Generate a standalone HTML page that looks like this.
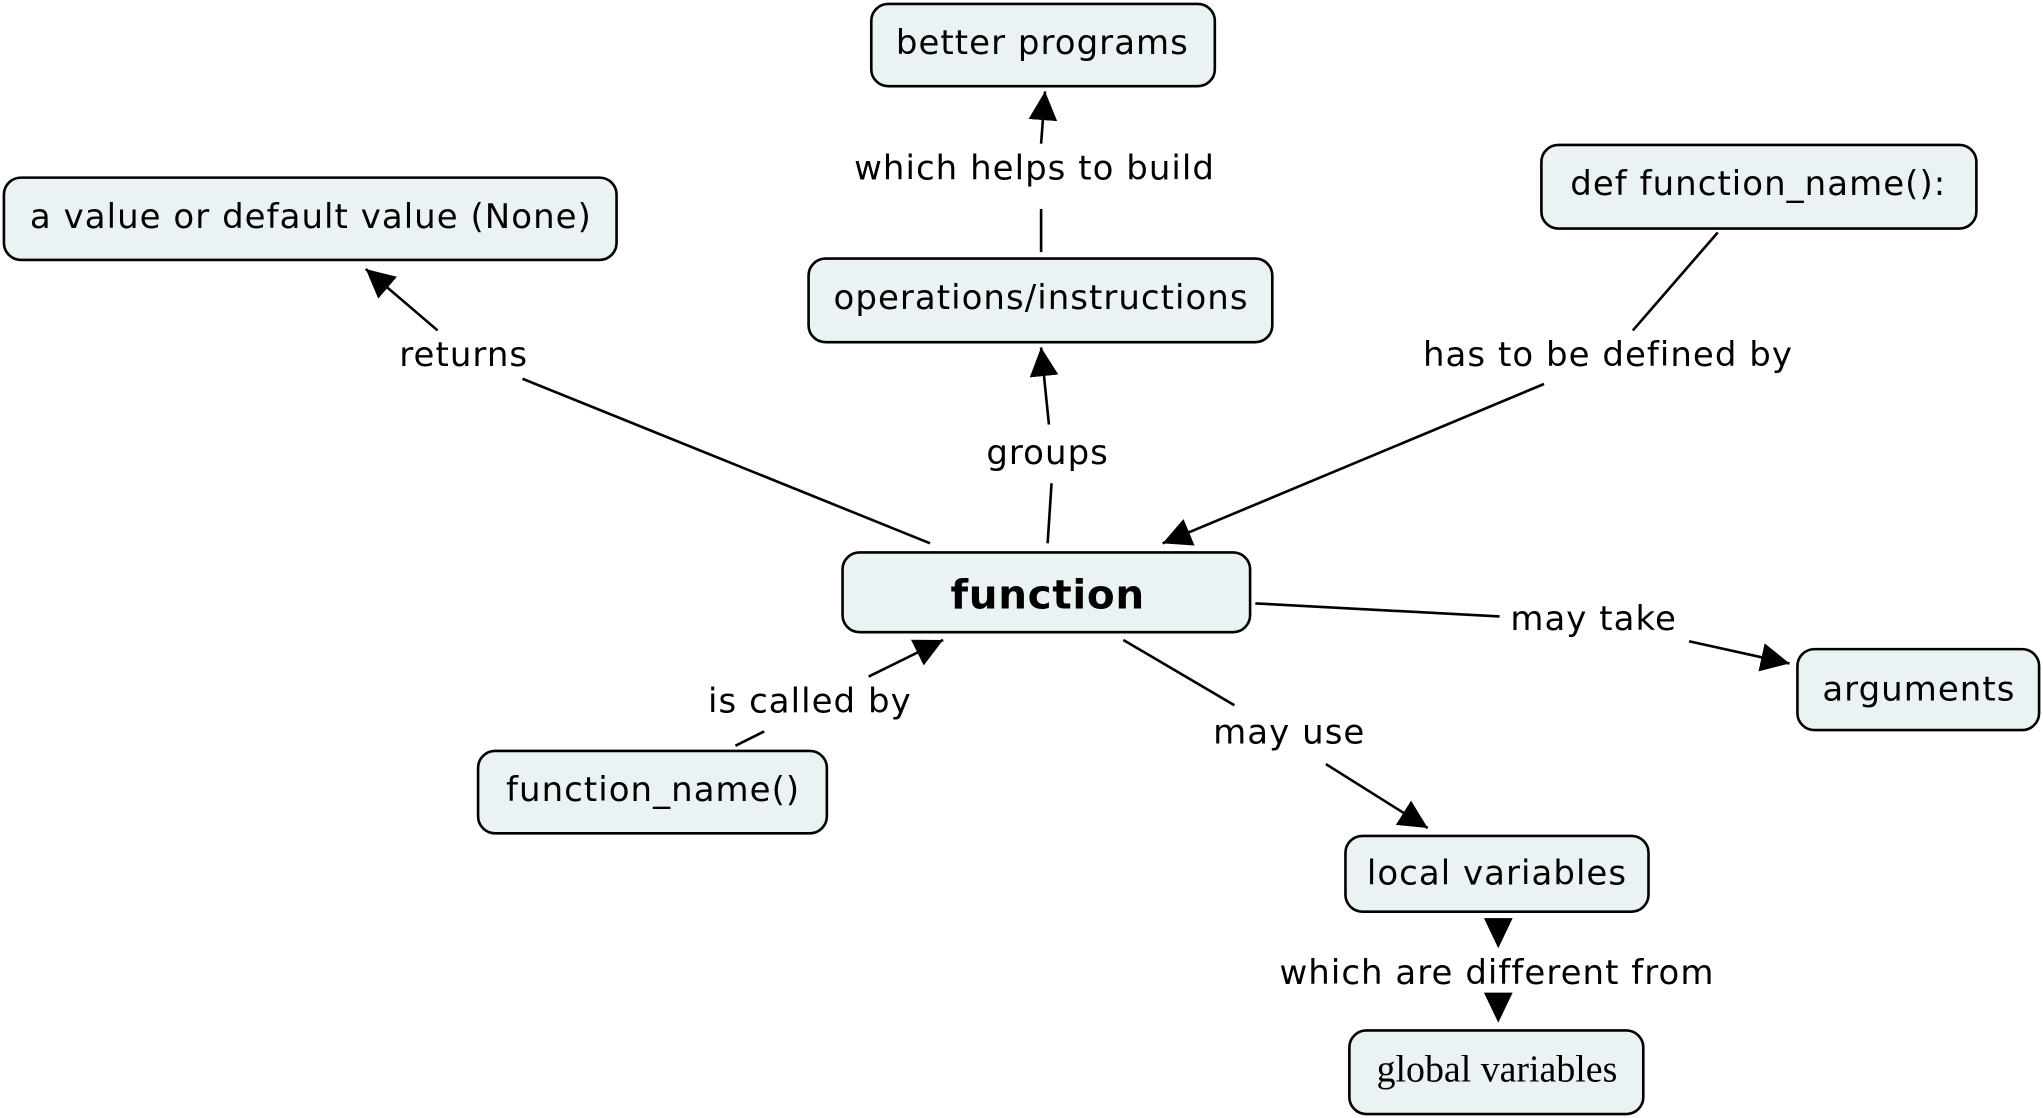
<!DOCTYPE html>
<html><head><meta charset="utf-8"><style>
html,body{margin:0;padding:0;background:#fff;width:2043px;height:1118px;overflow:hidden}
svg{display:block}
text{font-family:"DejaVu Sans","Liberation Sans",sans-serif;font-size:26px;letter-spacing:0.8px;fill:#000;text-anchor:middle;dominant-baseline:central}
rect{fill:#ebf2f4;stroke:#000;stroke-width:2}
line{stroke:#000;stroke-width:2}
</style></head><body>
<svg width="2043" height="1118" viewBox="0 0 1564 856" preserveAspectRatio="none">
<defs><marker id="a" markerUnits="userSpaceOnUse" markerWidth="24" markerHeight="24" refX="22" refY="11" orient="auto"><path d="M0,0 L22,11 L0,22 z" fill="#000"/></marker></defs>

<rect x="667" y="3" width="263" height="63" rx="13"/><text x="798" y="33">better programs</text>
<rect x="3" y="136" width="469" height="63" rx="13"/><text x="238" y="166">a value or default value (None)</text>
<rect x="619" y="198" width="355" height="64" rx="13"/><text x="797" y="228">operations/instructions</text>
<rect x="1180" y="111" width="333" height="64" rx="13"/><text x="1346" y="141">def function_name():</text>
<rect x="645" y="423" width="312" height="61" rx="13"/><text x="802" y="455" style="font-weight:bold;font-size:31px;letter-spacing:0.5px">function</text>
<rect x="1376" y="497" width="185" height="62" rx="13"/><text x="1469" y="528">arguments</text>
<rect x="366" y="575" width="267" height="63" rx="13"/><text x="500" y="605">function_name()</text>
<rect x="1030" y="640" width="232" height="58" rx="13"/><text x="1146" y="669">local variables</text>
<rect x="1033" y="789" width="225" height="64" rx="13"/><text x="1146" y="819" style="font-family:'Liberation Serif',serif;font-size:29px;letter-spacing:0">global variables</text>

<line x1="712" y1="416" x2="400" y2="290"/><text x="355" y="272">returns</text><line x1="335" y1="253" x2="280" y2="206" marker-end="url(#a)"/>
<line x1="802" y1="416" x2="805" y2="370"/><text x="802" y="347">groups</text><line x1="803" y1="325" x2="797" y2="266" marker-end="url(#a)"/>
<line x1="797" y1="193" x2="797" y2="160"/><text x="792" y="129">which helps to build</text><line x1="797" y1="110" x2="800" y2="70" marker-end="url(#a)"/>
<line x1="1315" y1="178" x2="1250" y2="253"/><text x="1231" y="272">has to be defined by</text><line x1="1182" y1="294" x2="890" y2="416" marker-end="url(#a)"/>
<line x1="961" y1="462" x2="1148" y2="472"/><text x="1220" y="474">may take</text><line x1="1293" y1="491" x2="1370" y2="508" marker-end="url(#a)"/>
<line x1="860" y1="490" x2="945" y2="540"/><text x="987" y="561">may use</text><line x1="1015" y1="585" x2="1093" y2="634" marker-end="url(#a)"/>
<line x1="563" y1="571" x2="585" y2="560"/><text x="620" y="537">is called by</text><line x1="665" y1="518" x2="722" y2="490" marker-end="url(#a)"/>
<path d="M1136,703 L1158,703 L1147,726 z" fill="#000"/><text x="1146" y="745">which are different from</text>
<path d="M1136,760 L1158,760 L1147,783 z" fill="#000"/>
</svg>
</body></html>
